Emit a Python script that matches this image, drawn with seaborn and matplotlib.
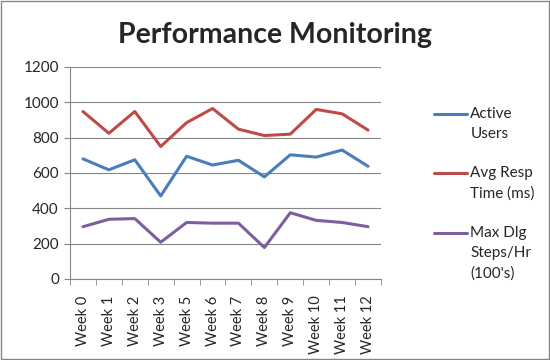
import pandas as pd
import matplotlib
matplotlib.use("Agg")
import matplotlib.pyplot as plt
import seaborn as sns
from matplotlib.patches import Rectangle

# data
weeks = ["Week 0", "Week 1", "Week 2", "Week 3", "Week 5", "Week 6",
         "Week 7", "Week 8", "Week 9", "Week 10", "Week 11", "Week 12"]
active_users = [680, 618, 675, 470, 695, 645, 672, 578, 703, 690, 730, 638]
avg_resp = [948, 825, 948, 750, 885, 965, 848, 812, 820, 960, 935, 843]
max_dlg = [296, 338, 342, 208, 320, 316, 316, 178, 375, 332, 320, 296]

series_names = ["Active\nUsers", "Avg Resp\nTime (ms)", "Max Dlg\nSteps/Hr\n(100's)"]
colors = ["#4A7EBB", "#BE4B48", "#7D5FA0"]

df = pd.DataFrame({"Week": weeks,
                   series_names[0]: active_users,
                   series_names[1]: avg_resp,
                   series_names[2]: max_dlg})
long = df.melt(id_vars="Week", var_name="Series", value_name="Value")

# %%
sns.set_style("white")
plt.rcParams["font.family"] = ["Lato", "DejaVu Sans"]

fig = plt.figure(figsize=(5.5, 3.6), dpi=100)
ax = fig.add_axes([70 / 550, 1 - 279 / 360, 311 / 550, 212 / 360])

sns.lineplot(data=long, x="Week", y="Value", hue="Series", palette=colors,
             linewidth=2.2, sort=False, ax=ax, legend=True)

ax.set_ylim(0, 1200)
ax.set_yticks(range(0, 1201, 200))
ax.set_xlim(-0.5, len(weeks) - 0.5)
ax.set_xlabel("")
ax.set_ylabel("")
ax.yaxis.grid(True, color="#868686", linewidth=0.8)
ax.xaxis.grid(False)
ax.set_axisbelow(True)
for s in ["top", "right"]:
    ax.spines[s].set_visible(False)
for s in ["left", "bottom"]:
    ax.spines[s].set_color("#868686")
    ax.spines[s].set_linewidth(0.8)

ax.set_xticks(range(len(weeks)))
ax.set_xticklabels(weeks, rotation=90, fontsize=10.5)
ax.tick_params(axis="x", length=0, pad=12)
ax.set_xticks([i - 0.5 for i in range(len(weeks) + 1)], minor=True)
ax.tick_params(axis="x", which="minor", length=4, color="#868686", bottom=True)
ax.tick_params(axis="y", length=4, color="#868686", left=True, labelsize=11, pad=4)

handles, labels = ax.get_legend_handles_labels()
leg = ax.legend(handles, labels, loc="upper left", bbox_to_anchor=(420 / 550, 1 - 93 / 360),
                bbox_transform=fig.transFigure, frameon=False, fontsize=11,
                handlelength=2.2, handletextpad=0.2, labelspacing=1.65)
for t in leg.get_texts():
    t.set_linespacing(1.55)

# put each legend line next to the first line of its label, as Excel does
fig.canvas.draw()
r = fig.canvas.get_renderer()
texts = leg.get_texts()
pitch_px = texts[2].get_window_extent(r).height - texts[1].get_window_extent(r).height
pitch_pt = pitch_px * 72 / fig.dpi
for line, text in zip(leg.get_lines(), texts):
    n = text.get_text().count("\n")
    line.set_ydata([v + n * 0.5 * pitch_pt for v in line.get_ydata()])

fig.text(0.5, 1 - 35 / 360, "Performance Monitoring", ha="center", va="center",
         fontsize=20.5, fontweight="bold")

fig.patches.append(Rectangle((0.002, 0.003), 0.996, 0.994, transform=fig.transFigure,
                             fill=False, edgecolor="#868686", linewidth=1))

fig.savefig("out.png", dpi=100)
